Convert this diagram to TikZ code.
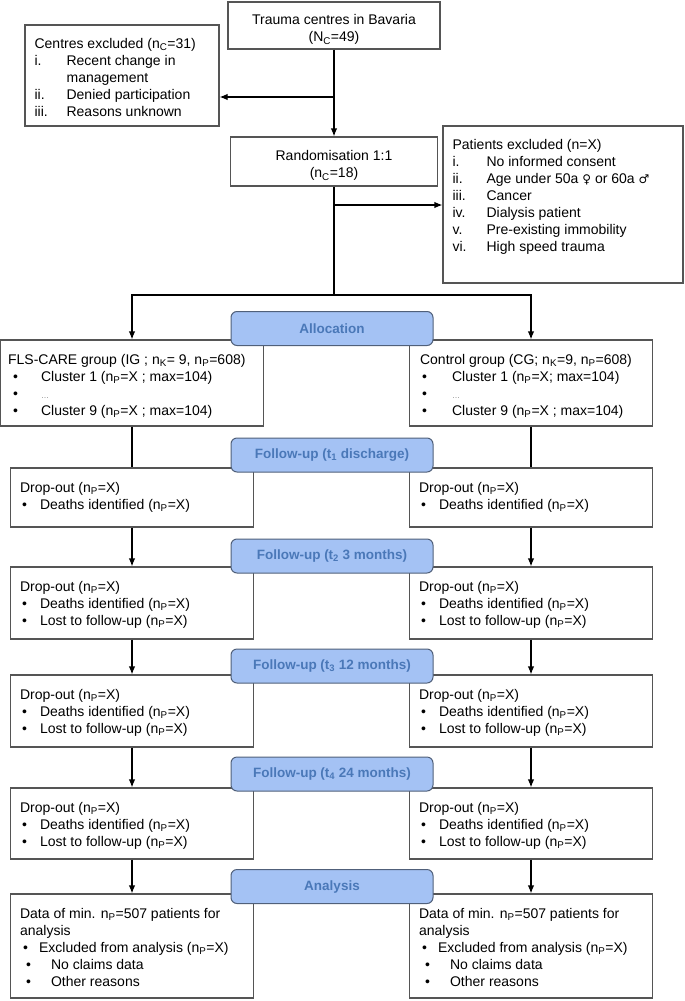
\documentclass[tikz,border=0pt]{standalone}
\usepackage{fontspec}
\setmainfont{Liberation Sans}
\newfontfamily\genderfont{DejaVu Sans}
\usetikzlibrary{arrows.meta}
\definecolor{phasefill}{HTML}{A4C2F4}
\definecolor{phaseline}{HTML}{50607A}
\definecolor{phasetext}{HTML}{4A78B8}
\definecolor{boxline}{HTML}{555555}
\newcommand{\np}{n\textsubscript{P}}
\newcommand{\lab}[2]{\makebox[#1][l]{#2}}
\newcommand{\bul}[2]{\hspace*{2pt}\lab{#1}{\textbullet}#2}
\newcommand{\dropthree}{Drop-out (\np=X)\\
	\bul{18pt}{Deaths identified (\np=X)}\\
	\bul{18pt}{Lost to follow-up (\np=X)}}
\newcommand{\analysed}{Data of min. \np=507 patients for\\
	analysis\\
	\hspace*{3pt}\lab{16pt}{\textbullet}Excluded from analysis (\np=X)\\
	\hspace*{6pt}\lab{25pt}{\textbullet}No claims data\\
	\hspace*{6pt}\lab{25pt}{\textbullet}Other reasons}

\begin{document}
\begin{tikzpicture}[x=1pt, y=-1pt,
		box/.style={draw=boxline, line width=1.2pt, fill=white, inner sep=0pt},
		ctr/.style={align=center, inner sep=0pt, font=\fontsize{14}{17.6}\selectfont},
		txt/.style={anchor=north west, inner sep=0pt, align=left, font=\fontsize{14}{17}\selectfont},
		phase/.style={draw=phaseline, line width=1pt, fill=phasefill, rounded corners=6pt, minimum width=202pt, minimum height=34pt, inner sep=0pt, text=phasetext, font=\fontsize{13.5}{16}\selectfont\bfseries},
		ln/.style={line width=1.2pt},
		arr/.style={line width=1.2pt, -{Latex[length=8pt, width=6.5pt]}}
		]
		\useasboundingbox (0,0) rectangle (685,1001);
		
		% Centres
		\node[box, minimum width=212pt, minimum height=47pt] (trauma) at (334,25.5) {};
		\node[ctr] at ([yshift=-4pt]trauma.center) {Trauma centres in Bavaria\\(N\textsubscript{C}=49)};
		\node[box, minimum width=194pt, minimum height=101pt] (excl) at (122,75.5) {};
		\node[txt] at ([xshift=10pt, yshift=-14pt]excl.north west) {Centres excluded (n\textsubscript{C}=31)\\
			\lab{32pt}{i.}Recent change in\\
			\lab{32pt}{}management\\
			\lab{32pt}{ii.}Denied participation\\
			\lab{32pt}{iii.}Reasons unknown};
		\node[box, minimum width=207pt, minimum height=49pt] (rand) at (334,161.5) {};
		\node[ctr] at ([yshift=-4pt]rand.center) {Randomisation 1:1\\(n\textsubscript{C}=18)};
		
		% Patients
		\node[box, minimum width=240pt, minimum height=157pt] (pat) at (563,204.5) {};
		\node[txt] at ([xshift=10pt, yshift=-14pt]pat.north west) {Patients excluded (n=X)\\
			\lab{34pt}{i.}No informed consent\\
			\lab{34pt}{ii.}Age under 50a {\genderfont\fontsize{12}{17}\selectfont ♀} or 60a {\genderfont\fontsize{12}{17}\selectfont ♂}\\
			\lab{34pt}{iii.}Cancer\\
			\lab{34pt}{iv.}Dialysis patient\\
			\lab{34pt}{v.}Pre-existing immobility\\
			\lab{34pt}{vi.}High speed trauma};
		
		% Groups
		\node[box, minimum width=263pt, minimum height=86pt] (flsgrp) at (132,383) {};
		\node[txt] at ([xshift=8pt, yshift=-15pt]flsgrp.north west) {FLS-CARE group (IG ; n\textsubscript{K}= 9, \np=608)\\
			\hspace*{5pt}\lab{28pt}{\textbullet}Cluster 1 (\np=X ; max=104)\\
			\hspace*{5pt}\lab{28pt}{\textbullet}{\color{gray}\footnotesize\dots}\\
			\hspace*{5pt}\lab{28pt}{\textbullet}Cluster 9 (\np=X ; max=104)};
		\node[box, minimum width=243pt, minimum height=86pt] (ctlgrp) at (531,383) {};
		\node[txt] at ([xshift=11pt, yshift=-15pt]ctlgrp.north west) {Control group (CG; n\textsubscript{K}=9, \np=608)\\
			\hspace*{2pt}\lab{30pt}{\textbullet}Cluster 1 (\np=X; max=104)\\
			\hspace*{2pt}\lab{30pt}{\textbullet}{\color{gray}\footnotesize\dots}\\
			\hspace*{2pt}\lab{30pt}{\textbullet}Cluster 9 (\np=X ; max=104)};
		
		% Drop-out, discharge
		\node[box, minimum width=243pt, minimum height=59pt] (dropL1) at (132,497.5) {};
		\node[txt] at ([xshift=10pt, yshift=-15pt]dropL1.north west) {Drop-out (\np=X)\\\bul{18pt}{Deaths identified (\np=X)}};
		\node[box, minimum width=243pt, minimum height=59pt] (dropR1) at (531,497.5) {};
		\node[txt] at ([xshift=10pt, yshift=-15pt]dropR1.north west) {Drop-out (\np=X)\\\bul{18pt}{Deaths identified (\np=X)}};
		
		% Drop-out, 3 months
		\node[box, minimum width=243pt, minimum height=72pt] (dropL2) at (132,603) {};
		\node[txt] at ([xshift=10pt, yshift=-14.5pt]dropL2.north west) {\dropthree};
		\node[box, minimum width=243pt, minimum height=72pt] (dropR2) at (531,603) {};
		\node[txt] at ([xshift=10pt, yshift=-14.5pt]dropR2.north west) {\dropthree};
		
		% Drop-out, 12 months
		\node[box, minimum width=243pt, minimum height=72pt] (dropL3) at (132,711) {};
		\node[txt] at ([xshift=10pt, yshift=-14.5pt]dropL3.north west) {\dropthree};
		\node[box, minimum width=243pt, minimum height=72pt] (dropR3) at (531,711) {};
		\node[txt] at ([xshift=10pt, yshift=-14.5pt]dropR3.north west) {\dropthree};
		
		% Drop-out, 24 months
		\node[box, minimum width=243pt, minimum height=71pt] (dropL4) at (132,823.5) {};
		\node[txt] at ([xshift=10pt, yshift=-14.5pt]dropL4.north west) {\dropthree};
		\node[box, minimum width=243pt, minimum height=71pt] (dropR4) at (531,823.5) {};
		\node[txt] at ([xshift=10pt, yshift=-14.5pt]dropR4.north west) {\dropthree};
		
		% Analysis
		\node[box, minimum width=243pt, minimum height=104pt] (anaL) at (132,946) {};
		\node[txt] at ([xshift=10pt, yshift=-14.5pt]anaL.north west) {\analysed};
		\node[box, minimum width=243pt, minimum height=104pt] (anaR) at (531,946) {};
		\node[txt] at ([xshift=10pt, yshift=-14.5pt]anaR.north west) {\analysed};
		
		% Connectors
		\coordinate (split1) at (334,97);
		\coordinate (split2) at (334,205);
		\coordinate (branch) at (334,295);
		\draw[arr] (trauma) -- (rand);
		\draw[arr] (split1) -- (split1 -| excl.east);
		\draw[ln] (rand) -- (branch);
		\draw[arr] (split2) -- (split2 -| pat.west);
		\draw[arr] (branch) -| (flsgrp.north);
		\draw[arr] (branch) -| (ctlgrp.north);
		\draw[ln] (flsgrp) -- (dropL1);
		\draw[ln] (ctlgrp) -- (dropR1);
		\draw[arr] (dropL1) -- (dropL2);
		\draw[arr] (dropR1) -- (dropR2);
		\draw[arr] (dropL2) -- (dropL3);
		\draw[arr] (dropR2) -- (dropR3);
		\draw[arr] (dropL3) -- (dropL4);
		\draw[arr] (dropR3) -- (dropR4);
		\draw[arr] (dropL4) -- (anaL);
		\draw[arr] (dropR4) -- (anaR);
		
		% Phases
		\node[phase] (alloc) at (332,328.5) {Allocation};
		\node[phase] (fu1) at (332,455) {Follow-up (t\textsubscript{1} discharge)};
		\node[phase] (fu2) at (332,556) {Follow-up (t\textsubscript{2} 3 months)};
		\node[phase] (fu3) at (332,666) {Follow-up (t\textsubscript{3} 12 months)};
		\node[phase] (fu4) at (332,774) {Follow-up (t\textsubscript{4} 24 months)};
		\node[phase] (ana) at (332,886.5) {Analysis};
	\end{tikzpicture}
\end{document}
